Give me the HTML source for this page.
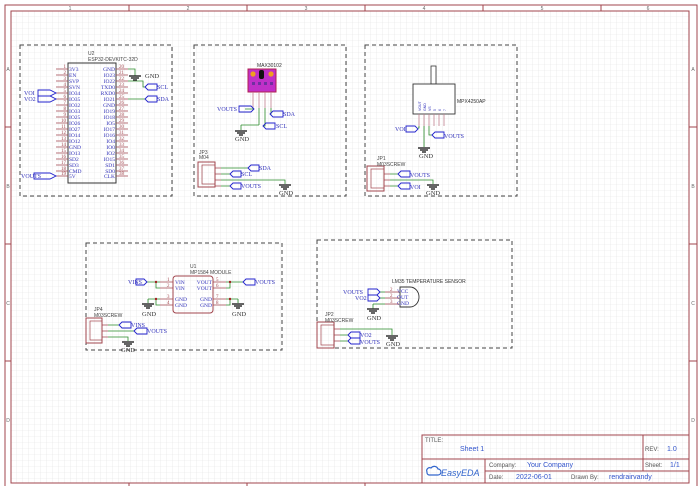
<!DOCTYPE html>
<html><head><meta charset="utf-8"><style>
html,body{margin:0;padding:0;background:#fff}
svg{display:block}
text{font-family:"Liberation Serif",serif}
.s, .s text{font-family:"Liberation Sans",sans-serif}
</style></head><body>
<svg width="699" height="486" viewBox="0 0 699 486" xmlns="http://www.w3.org/2000/svg">
<defs>
<pattern id="g" x="11" y="11" width="6" height="6" patternUnits="userSpaceOnUse">
<path d="M6 0V6H0" fill="none" stroke="#e2e2e2" stroke-width="0.6"/>
</pattern>
</defs>
<rect width="699" height="486" fill="#fff"/>
<rect x="11" y="11" width="678" height="472" fill="url(#g)"/>
<!-- frames -->
<g fill="none" stroke="#a0444c" stroke-width="1">
<rect x="5" y="5" width="692" height="490"/>
<rect x="11" y="11" width="678" height="472"/>
<path d="M129 5V11M247 5V11M365 5V11M483 5V11M601 5V11M5 127H11M5 244H11M5 361H11M689 127H697M689 244H697M689 361H697M129 483V489M247 483V489M365 483V489"/>
</g>
<g class="s" font-size="5" fill="#666" text-anchor="middle">
<text x="70" y="10">1</text><text x="188" y="10">2</text><text x="306" y="10">3</text><text x="424" y="10">4</text><text x="542" y="10">5</text><text x="648" y="10">6</text>
<text x="8" y="71">A</text><text x="8" y="188">B</text><text x="8" y="305">C</text><text x="8" y="422">D</text>
<text x="693" y="71">A</text><text x="693" y="188">B</text><text x="693" y="305">C</text><text x="693" y="422">D</text>
</g>
<!-- dashed boxes -->
<g fill="none" stroke="#444" stroke-width="1" stroke-dasharray="4,3">
<rect x="20" y="45" width="152" height="151"/>
<rect x="194" y="45" width="152" height="151"/>
<rect x="365" y="45" width="152" height="151"/>
<rect x="86" y="243" width="196" height="107"/>
<rect x="317" y="240" width="195" height="108"/>
</g>

<!-- ESP32 -->
<rect x="68" y="63" width="48" height="120" fill="none" stroke="#333" stroke-width="1"/>
<text class="s" x="88" y="55" font-size="5" fill="#444">U2</text>
<text class="s" x="88" y="61" font-size="5" fill="#444">ESP32-DEVKITC-32D</text>
<g stroke="#a0444c" stroke-width="0.8">
<path d="M56 69H68M56 75H68M56 81H68M56 87H68M56 93H68M56 99H68M56 105H68M56 111H68M56 117H68M56 123H68M56 129H68M56 135H68M56 141H68M56 147H68M56 153H68M56 159H68M56 165H68M56 171H68M56 176H68"/>
<path d="M116 69H128M116 75H128M116 81H128M116 87H128M116 93H128M116 99H128M116 105H128M116 111H128M116 117H128M116 123H128M116 129H128M116 135H128M116 141H128M116 147H128M116 153H128M116 159H128M116 165H128M116 171H128M116 176H128"/>
</g>
<g font-size="5.5" fill="#3333bb">
<text x="69" y="71">3V3</text><text x="69" y="77">EN</text><text x="69" y="83">SVP</text><text x="69" y="89">SVN</text><text x="69" y="95">IO34</text><text x="69" y="101">IO35</text><text x="69" y="107">IO32</text><text x="69" y="113">IO33</text><text x="69" y="119">IO25</text><text x="69" y="125">IO26</text><text x="69" y="131">IO27</text><text x="69" y="137">IO14</text><text x="69" y="143">IO12</text><text x="69" y="149">GND</text><text x="69" y="155">IO13</text><text x="69" y="161">SD2</text><text x="69" y="167">SD3</text><text x="69" y="173">CMD</text><text x="69" y="178">5V</text>
</g>
<g font-size="5.5" fill="#3333bb" text-anchor="end">
<text x="115" y="71">GND</text><text x="115" y="77">IO23</text><text x="115" y="83">IO22</text><text x="115" y="89">TXD0</text><text x="115" y="95">RXD0</text><text x="115" y="101">IO21</text><text x="115" y="107">GND</text><text x="115" y="113">IO19</text><text x="115" y="119">IO18</text><text x="115" y="125">IO5</text><text x="115" y="131">IO17</text><text x="115" y="137">IO16</text><text x="115" y="143">IO4</text><text x="115" y="149">IO0</text><text x="115" y="155">IO2</text><text x="115" y="161">IO15</text><text x="115" y="167">SD1</text><text x="115" y="173">SD0</text><text x="115" y="178">CLK</text>
</g>
<g font-size="5" fill="#a0444c" text-anchor="end">
<text x="66" y="68">1</text><text x="66" y="74">2</text><text x="66" y="80">3</text><text x="66" y="86">4</text><text x="66" y="92">5</text><text x="66" y="98">6</text><text x="66" y="104">7</text><text x="66" y="110">8</text><text x="66" y="116">9</text><text x="66" y="122">10</text><text x="66" y="128">11</text><text x="66" y="134">12</text><text x="66" y="140">13</text><text x="66" y="146">14</text><text x="66" y="152">15</text><text x="66" y="158">16</text><text x="66" y="164">17</text><text x="66" y="170">18</text><text x="66" y="175">19</text>
</g>
<g font-size="5" fill="#a0444c">
<text x="119" y="68">20</text><text x="119" y="74">21</text><text x="119" y="80">22</text><text x="119" y="86">23</text><text x="119" y="92">24</text><text x="119" y="98">25</text><text x="119" y="104">26</text><text x="119" y="110">27</text><text x="119" y="116">28</text><text x="119" y="122">29</text><text x="119" y="128">30</text><text x="119" y="134">31</text><text x="119" y="140">32</text><text x="119" y="146">33</text><text x="119" y="152">34</text><text x="119" y="158">35</text><text x="119" y="164">36</text><text x="119" y="170">37</text><text x="119" y="175">38</text>
</g>
<g stroke="#2a8a2a" stroke-width="0.8" fill="none">
<path d="M128 69H135V76M128 81H143V87H145M128 99H145"/>
</g>
<g fill="none" stroke="#2222cc" stroke-width="0.9">
<path d="M38 90H50L56 93L50 96H38Z"/>
<path d="M38 96H50L56 99L50 102H38Z"/>
<path d="M34 173H50L56 176L50 179H34Z"/>
<path d="M145 87L148 84H157V90H148Z"/>
<path d="M145 99L148 96H157V102H148Z"/>
</g>
<g font-size="6" fill="#3333bb">
<text x="24" y="95">VOI</text><text x="24" y="101">VO2</text><text x="21" y="178">VOUTS</text>
<text x="157" y="89">SCL</text><text x="157" y="101">SDA</text>
</g>
<path d="M129 76H141M131 78H139M133 80H137" stroke="#333" stroke-width="1.5"/>
<text x="145" y="78" font-size="6.5" fill="#333">GND</text>

<!-- MAX30102 -->
<rect x="248" y="69" width="28" height="23" fill="#c030c8" stroke="#b02050" stroke-width="1"/>
<circle cx="253" cy="74" r="2.6" fill="#f0a020"/><circle cx="271" cy="74" r="2.6" fill="#f0a020"/>
<rect x="259" y="70" width="5" height="9" rx="2" fill="#111"/>
<g fill="#7030a0"><rect x="252" y="82" width="3" height="3"/><rect x="258" y="82" width="3" height="3"/><rect x="264" y="82" width="3" height="3"/><rect x="270" y="82" width="3" height="3"/></g>
<text class="s" x="257" y="67" font-size="5" fill="#333">MAX30102</text>
<g stroke="#c08090" stroke-width="0.8"><path d="M253 92V108M259 92V108M265 92V108M271 92V108"/></g>
<g stroke="#2a8a2a" stroke-width="0.8" fill="none"><path d="M253 108V109H245M259 108V125M265 108V126H263M271 108V114H270M241 125H259"/></g>
<path d="M241 125V130" stroke="#2a8a2a" stroke-width="0.8"/>
<path d="M235 131H247M237 133H245M239 135H243" stroke="#333" stroke-width="1.5"/>
<text x="235" y="141" font-size="6.5" fill="#333">GND</text>
<g fill="none" stroke="#2222cc" stroke-width="0.9">
<path d="M239 106H251L254 109L251 112H239Z"/>
<path d="M270 114L273 111H283V117H273Z"/>
<path d="M263 126L266 123H275V129H266Z"/>
</g>
<g font-size="6" fill="#3333bb"><text x="217" y="111">VOUTS</text><text x="283" y="116">SDA</text><text x="276" y="128">SCL</text></g>
<!-- JP3 -->
<rect x="198" y="162" width="17" height="25" fill="none" stroke="#a0444c" stroke-width="1"/>
<rect x="202" y="165" width="13" height="19" fill="none" stroke="#a0444c" stroke-width="0.7"/>
<text class="s" x="199" y="154" font-size="5" fill="#444">JP3</text><text class="s" x="199" y="159" font-size="5" fill="#444">M04</text>
<g stroke="#a0444c" stroke-width="0.8"><path d="M215 168H221M215 174H221M215 180H221M215 186H221"/></g>
<g stroke="#2a8a2a" stroke-width="0.8" fill="none"><path d="M221 168H248M221 174H230M221 180H285V184M221 186H230"/></g>
<path d="M279 185H291M281 187H289M283 189H287" stroke="#333" stroke-width="1.5"/>
<text x="279" y="195" font-size="6.5" fill="#333">GND</text>
<g fill="none" stroke="#2222cc" stroke-width="0.9">
<path d="M248 168L251 165H259V171H251Z"/><path d="M230 174L233 171H241V177H233Z"/><path d="M230 186L233 183H241V189H233Z"/>
</g>
<g font-size="6" fill="#3333bb"><text x="259" y="170">SDA</text><text x="241" y="176">SCL</text><text x="241" y="188">VOUTS</text></g>

<!-- MPX4250AP -->
<rect x="431" y="66" width="5" height="18" fill="#fff" stroke="#333" stroke-width="0.8"/>
<rect x="413" y="84" width="42" height="30" fill="#fff" stroke="#333" stroke-width="0.9"/>
<text class="s" x="457" y="103" font-size="5" fill="#333">MPX4250AP</text>
<g class="s" font-size="3.5" fill="#3333bb">
<text transform="translate(421,111) rotate(-90)">VOUT</text><text transform="translate(426,111) rotate(-90)">GND</text><text transform="translate(431,111) rotate(-90)">VS</text>
<text transform="translate(436,111) rotate(-90)">5</text><text transform="translate(441,111) rotate(-90)">6</text><text transform="translate(446,111) rotate(-90)">7</text>
</g>
<g stroke="#c08090" stroke-width="0.8"><path d="M419 114V126M424 114V126M429 114V126M434 114V126M439 114V126M444 114V126"/></g>
<g stroke="#2a8a2a" stroke-width="0.8" fill="none"><path d="M419 126V128H418M424 126V147M429 126V135H432"/></g>
<path d="M418 148H430M420 150H428M422 152H426" stroke="#333" stroke-width="1.5"/>
<text x="419" y="158" font-size="6.5" fill="#333">GND</text>
<g fill="none" stroke="#2222cc" stroke-width="0.9">
<path d="M406 126H415L418 129L415 132H406Z"/><path d="M432 135L435 132H444V138H435Z"/>
</g>
<g font-size="6" fill="#3333bb"><text x="395" y="131">VOI</text><text x="444" y="138">VOUTS</text></g>
<!-- JP1 -->
<rect x="367" y="166" width="17" height="25" fill="none" stroke="#a0444c" stroke-width="1"/>
<rect x="371" y="169" width="13" height="19" fill="none" stroke="#a0444c" stroke-width="0.7"/>
<text class="s" x="377" y="160" font-size="5" fill="#444">JP1</text><text class="s" x="377" y="166" font-size="5" fill="#444">M03SCREW</text>
<g stroke="#a0444c" stroke-width="0.8"><path d="M384 174H390M384 180H390M384 186H390"/></g>
<g stroke="#2a8a2a" stroke-width="0.8" fill="none"><path d="M390 174H398M390 180H433V184M390 186H398"/></g>
<path d="M427 185H439M429 187H437M431 189H435" stroke="#333" stroke-width="1.5"/>
<text x="426" y="195" font-size="6.5" fill="#333">GND</text>
<g fill="none" stroke="#2222cc" stroke-width="0.9">
<path d="M398 174L401 171H410V177H401Z"/><path d="M398 186L401 183H410V189H401Z"/>
</g>
<g font-size="6" fill="#3333bb"><text x="410" y="177">VOUTS</text><text x="410" y="189">VOI</text></g>

<!-- MP1584 -->
<rect x="173" y="276" width="40" height="37" rx="3" fill="none" stroke="#a0444c" stroke-width="1"/>
<text class="s" x="190" y="268" font-size="5" fill="#444">U1</text><text class="s" x="190" y="274" font-size="5" fill="#444">MP1584 MODULE</text>
<g stroke="#a0444c" stroke-width="0.8"><path d="M160 282H173M160 288H173M160 299H173M160 305H173M213 282H226M213 288H226M213 299H226M213 305H226"/></g>
<g font-size="5" fill="#a0444c"><text x="167" y="281">1</text><text x="167" y="287">2</text><text x="167" y="298">3</text><text x="167" y="304">4</text><text x="216" y="281">5</text><text x="216" y="287">6</text><text x="216" y="298">7</text><text x="216" y="304">8</text></g>
<g font-size="5.5" fill="#3333bb"><text x="175" y="284">VIN</text><text x="175" y="290">VIN</text><text x="175" y="301">GND</text><text x="175" y="307">GND</text></g>
<g font-size="5.5" fill="#3333bb" text-anchor="end"><text x="212" y="284">VOUT</text><text x="212" y="290">VOUT</text><text x="212" y="301">GND</text><text x="212" y="307">GND</text></g>
<g stroke="#2a8a2a" stroke-width="0.8" fill="none">
<path d="M147 282H160M156 282V288H160M226 282H243M230 282V288H226M148 299H160M156 299V305H160M226 299H238M230 299V305H226M148 299V303M238 299V303"/>
</g>
<g fill="#a02020"><circle cx="156" cy="282" r="1.2"/><circle cx="230" cy="282" r="1.2"/><circle cx="156" cy="299" r="1.2"/><circle cx="230" cy="299" r="1.2"/></g>
<path d="M142 304H154M144 306H152M146 308H150M232 304H244M234 306H242M236 308H240" stroke="#333" stroke-width="1.5"/>
<text x="142" y="316" font-size="6.5" fill="#333">GND</text><text x="232" y="316" font-size="6.5" fill="#333">GND</text>
<g fill="none" stroke="#2222cc" stroke-width="0.9">
<path d="M136 279H144L147 282L144 285H136Z"/><path d="M243 282L246 279H255V285H246Z"/>
</g>
<g font-size="6" fill="#3333bb"><text x="128" y="284">VINS</text><text x="255" y="284">VOUTS</text></g>
<!-- JP4 -->
<rect x="86" y="318" width="16" height="25" fill="none" stroke="#a0444c" stroke-width="1"/>
<rect x="90" y="321" width="12" height="19" fill="none" stroke="#a0444c" stroke-width="0.7"/>
<text class="s" x="94" y="311" font-size="5" fill="#444">JP4</text><text class="s" x="94" y="317" font-size="5" fill="#444">M03SCREW</text>
<g stroke="#a0444c" stroke-width="0.8"><path d="M102 325H108M102 331H108M102 337H108"/></g>
<g stroke="#2a8a2a" stroke-width="0.8" fill="none"><path d="M108 325H119M108 331H134M108 337H128V341"/></g>
<path d="M122 342H134M124 344H132M126 346H130" stroke="#333" stroke-width="1.5"/>
<text x="121" y="352" font-size="6.5" fill="#333">GND</text>
<g fill="none" stroke="#2222cc" stroke-width="0.9">
<path d="M119 325L122 322H131V328H122Z"/><path d="M134 331L137 328H147V334H137Z"/>
</g>
<g font-size="6" fill="#3333bb"><text x="131" y="327">VINS</text><text x="147" y="333">VOUTS</text></g>

<!-- LM35 -->
<text class="s" x="392" y="283" font-size="5" fill="#333">LM35 TEMPERATURE SENSOR</text>
<path d="M400 287H410A9 10 0 0 1 410 307H400Z" fill="none" stroke="#333" stroke-width="0.9"/>
<g font-size="5.5" fill="#3333bb"><text x="397" y="293">VCC</text><text x="397" y="299">OUT</text><text x="397" y="305">GND</text></g>
<g stroke="#a0444c" stroke-width="0.8"><path d="M385 292H399M385 298H399M385 304H399"/></g>
<g font-size="5" fill="#a0444c"><text x="390" y="291">2</text><text x="390" y="297">2</text><text x="390" y="303">3</text></g>
<g stroke="#2a8a2a" stroke-width="0.8" fill="none"><path d="M380 292H385M380 298H385M373 304H385V304M373 304V309"/></g>
<path d="M367 309H379M369 311H377M371 313H375" stroke="#333" stroke-width="1.5"/>
<text x="367" y="320" font-size="6.5" fill="#333">GND</text>
<g fill="none" stroke="#2222cc" stroke-width="0.9">
<path d="M368 289H377L380 292L377 295H368Z"/><path d="M368 295H377L380 298L377 301H368Z"/>
</g>
<g font-size="6" fill="#3333bb"><text x="343" y="294">VOUTS</text><text x="355" y="300">VO2</text></g>
<!-- JP2 -->
<rect x="317" y="322" width="17" height="26" fill="none" stroke="#a0444c" stroke-width="1"/>
<rect x="321" y="325" width="13" height="20" fill="none" stroke="#a0444c" stroke-width="0.7"/>
<text class="s" x="325" y="316" font-size="5" fill="#444">JP2</text><text class="s" x="325" y="322" font-size="5" fill="#444">M03SCREW</text>
<g stroke="#a0444c" stroke-width="0.8"><path d="M334 329H340M334 335H340M334 341H340"/></g>
<g stroke="#2a8a2a" stroke-width="0.8" fill="none"><path d="M340 329H392V335M340 335H348M340 341H348"/></g>
<path d="M386 336H398M388 338H396M390 340H394" stroke="#333" stroke-width="1.5"/>
<text x="386" y="346" font-size="6.5" fill="#333">GND</text>
<g fill="none" stroke="#2222cc" stroke-width="0.9">
<path d="M348 335L351 332H360V338H351Z"/><path d="M348 341L351 338H360V344H351Z"/>
</g>
<g font-size="6" fill="#3333bb"><text x="360" y="337">VO2</text><text x="360" y="344">VOUTS</text></g>

<!-- Title block -->
<g fill="none" stroke="#a0444c" stroke-width="1">
<rect x="422" y="435" width="267" height="48"/>
<path d="M422 459H689M485 471H689M485 459V483M643 435V471"/>
</g>
<g class="s" font-size="6" fill="#555">
<text x="425" y="442">TITLE:</text>
<text x="645" y="451">REV:</text>
<text x="489" y="467">Company:</text>
<text x="645" y="467">Sheet:</text>
<text x="489" y="479">Date:</text>
<text x="571" y="479">Drawn By:</text>
</g>
<g class="s" font-size="7" fill="#3355cc">
<text x="460" y="451">Sheet 1</text>
<text x="667" y="451">1.0</text>
<text x="527" y="467">Your Company</text>
<text x="670" y="467">1/1</text>
<text x="516" y="479">2022-06-01</text>
<text x="609" y="479">rendrairvandy</text>
</g>
<path d="M427 472a3 3 0 0 1 4-4a4 4 0 0 1 7 1a3 3 0 0 1 0 6h-9a2.5 2.5 0 0 1-2-3z" fill="none" stroke="#3366cc" stroke-width="1.2"/>
<text class="s" x="441" y="476" font-size="9" font-style="italic" fill="#3366cc">EasyEDA</text>
</svg>
</body></html>
